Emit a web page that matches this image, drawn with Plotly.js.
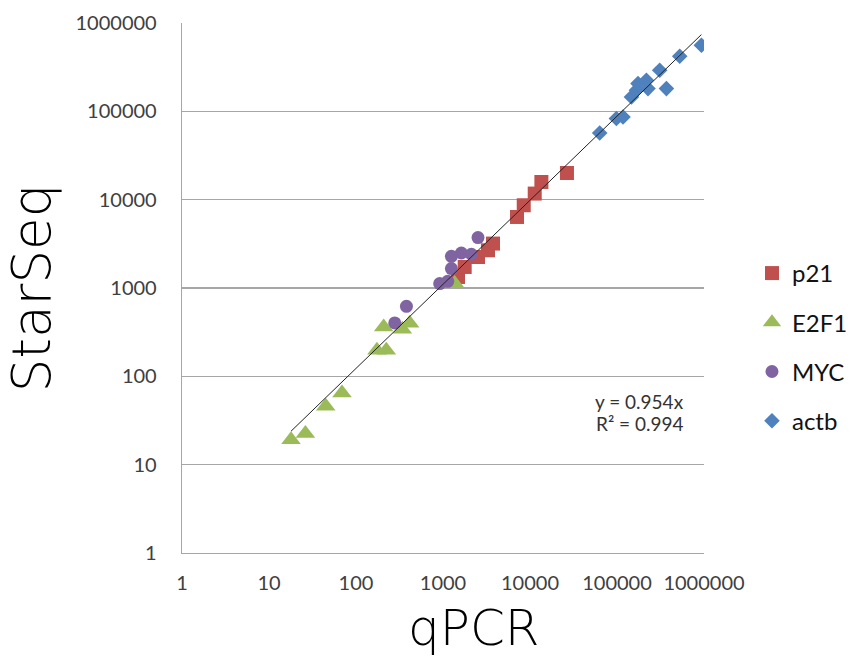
<!DOCTYPE html>
<html>
<head>
<meta charset="utf-8">
<script src="https://cdn.plot.ly/plotly-3.0.1.min.js"></script>
<style>html,body{margin:0;padding:0;background:#fff;}#chart{width:852px;height:661px;}</style>
</head>
<body>
<div id="chart"></div>
<script>
// Tick values / labels (both axes)
const tickValues = [1, 10, 100, 1000, 10000, 100000, 1000000];
const tickLabels = ["1", "10", "100", "1000", "10000", "100000", "1000000"];

// p21 (red squares)
const p21_qpcr    = [1487, 1775, 2525, 3290, 3756, 7090, 8470, 11330, 13520, 26600];
const p21_starseq = [1333, 1730, 2244, 2673, 3183, 6370, 8640, 11720, 15850, 20050];

// E2F1 (green triangles)
const e2f1_qpcr    = [17.9, 26.2, 44.9, 69, 174, 223, 208, 341, 414, 1362];
const e2f1_starseq = [19.2, 22.5, 45.8, 64.8, 197, 197, 362, 341, 398, 1122];

// MYC (purple circles)
const myc_qpcr    = [279, 380, 916, 1133, 1249, 1249, 1627, 2120, 2525];
const myc_starseq = [402, 621, 1122, 1191, 1660, 2286, 2490, 2409, 3722];

// actb (blue diamonds)
const actb_qpcr    = [63260, 98400, 117300, 146500, 167200, 174300, 217800, 227100, 309500, 369800, 526000, 933000];
const actb_starseq = [56880, 82800, 86300, 145300, 173000, 206000, 224700, 180800, 291600, 180800, 420000, 559500];

// Trendline endpoints as drawn (y = 0.954x)
const trend_qpcr    = [17.9, 933000];
const trend_starseq = [23.9, 739000];

const trendEquation = "y = 0.954x";
const trendR2 = "R² = 0.994";
const xTitle = "qPCR";
const yTitle = "StarSeq";

const traces = [
  {x: p21_qpcr, y: p21_starseq, name: "p21", type: "scatter", mode: "markers",
   marker: {symbol: "square", size: 14, color: "#C0504D", line: {width: 0}}, legendgroup: "a"},
  {x: e2f1_qpcr, y: e2f1_starseq, name: "E2F1", type: "scatter", mode: "markers",
   marker: {symbol: "triangle-up", size: 17, color: "#9BBB59", line: {width: 0}}, legendgroup: "b"},
  {x: myc_qpcr, y: myc_starseq, name: "MYC", type: "scatter", mode: "markers",
   marker: {symbol: "circle", size: 13, color: "#8064A2", line: {width: 0}}, legendgroup: "c"},
  {x: actb_qpcr, y: actb_starseq, name: "actb", type: "scatter", mode: "markers",
   marker: {symbol: "diamond", size: 12, color: "#4F81BD", line: {width: 0}}, legendgroup: "d"},
  {x: trend_qpcr, y: trend_starseq, name: "trend", type: "scatter", mode: "lines",
   line: {color: "#222222", width: 1}, showlegend: false, hoverinfo: "skip"}
];

const tickFont = {family: "Lato, 'Liberation Sans', sans-serif", size: 20, color: "#404040"};
const titleFont = {family: "'DejaVu Sans', sans-serif", size: 53, color: "#000000", weight: 200};
const xTitleFont = {family: "'DejaVu Sans', sans-serif", size: 50, color: "#000000", weight: 200};

const layout = {
  width: 852, height: 661,
  margin: {l: 182, r: 148, t: 23, b: 108, pad: 0, autoexpand: false},
  paper_bgcolor: "#ffffff", plot_bgcolor: "#ffffff",
  showlegend: true,
  xaxis: {
    type: "log", range: [0, 6],
    tickmode: "array", tickvals: tickValues, ticktext: tickLabels,
    showgrid: false, zeroline: false,
    showline: true, linecolor: "#a6a6a6", linewidth: 1.3,
    ticks: "", ticklabelstandoff: 12,
    tickfont: tickFont
  },
  yaxis: {
    type: "log", range: [0, 6],
    tickmode: "array", tickvals: tickValues, ticktext: tickLabels,
    showgrid: true, gridcolor: "#a6a6a6", gridwidth: 1.3, zeroline: false,
    showline: true, linecolor: "#a6a6a6", linewidth: 1.3,
    ticks: "", ticklabelstandoff: 20,
    tickfont: tickFont,
    title: {text: yTitle, font: titleFont, standoff: 8}
  },
  legend: {
    xref: "container", yref: "container",
    x: 0.8826, y: 0.6203, xanchor: "left", yanchor: "top",
    font: {family: "Lato, 'Liberation Sans', sans-serif", size: 24, color: "#111111"},
    traceorder: "grouped", tracegroupgap: 15,
    bgcolor: "rgba(0,0,0,0)", borderwidth: 0
  },
  annotations: [
    {xref: "paper", yref: "paper", x: 0.877, y: 0.285, text: trendEquation, showarrow: false,
     xanchor: "center", yanchor: "middle", font: {family: "Lato, sans-serif", size: 19, color: "#333333"}},
    {xref: "paper", yref: "paper", x: 0.877, y: 0.244, text: trendR2, showarrow: false,
     xanchor: "center", yanchor: "middle", font: {family: "Lato, sans-serif", size: 19, color: "#333333"}},
    {xref: "paper", yref: "paper", x: 0.559, y: -0.2, text: xTitle, showarrow: false,
     xanchor: "center", yanchor: "bottom", font: xTitleFont}
  ]
};

Plotly.newPlot("chart", traces, layout, {displayModeBar: false, staticPlot: true});
</script>
</body>
</html>
